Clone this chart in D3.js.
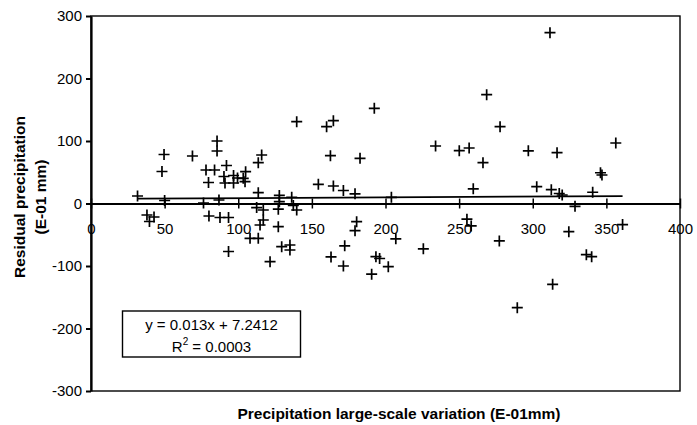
<!DOCTYPE html>
<html><head><meta charset="utf-8">
<script src="https://cdn.jsdelivr.net/npm/d3@7"></script>
<style>
html,body{margin:0;padding:0;background:#fff;}
svg{display:block;font-family:"Liberation Sans",Arial,sans-serif;}
</style></head>
<body>
<svg id="chart" width="697" height="425"></svg>
<script>
const xValues = [31.6,49.6,48.2,50,68.9,38,42.8,39.7,85.6,85.6,78.1,83.9,92,79.8,90.3,91,96.8,96.8,99.5,103.4,105,104.6,76.4,86.9,80.1,87.6,93.4,93.4,
  113.6,115.9,113.6,127.9,136.3,127.9,137.4,112.5,117,127.2,139.7,117,114.8,127.2,108,113.6,129.5,135.1,135.1,121.6,
  139.7,160,164.6,162.6,182.7,192.4,154.4,164.6,171.4,179.3,204,180.4,179.3,207,172.3,225.7,163,193.5,196,171.4,201.9,190.6,234,
  250.1,256.8,266.2,268.7,277.8,259.6,255.3,258.2,277.3,289.5,297,302.7,311.7,312.6,313.5,316.5,318,320,324.5,328.7,336.4,340,340.7,346,347,356.4,361];
const yValues = [12,78.4,51.2,4.8,76,-18.4,-21.6,-28.8,100,84,53.6,53.6,60.8,33.6,43.2,32.8,44.8,32.8,40.8,40.3,51,35,0.8,5.6,-20,-22.4,-22.4,-76.8,
  65.3,77.6,17.3,13,10,2.9,-3,-6.5,-10.4,-9,-10.4,-26.4,-34.4,-37.1,-55.7,-55.7,-69,-66.4,-74.4,-93,
  130.9,122.9,132.5,76.6,72.3,152.3,30.7,28,20.8,15.5,9.9,-29,-43.5,-56.5,-67.7,-72.5,-85.5,-85,-88,-100,-101,-113,92,
  84.5,88.8,65.3,174.2,122.9,23.5,-25,-35.8,-59.8,-166.7,84.3,26.9,273.3,22.2,-129.3,81.3,16,13.6,-45,-4.5,-81.8,-85,18,49.2,45.6,96.8,-33.7];
const xTicks = [0,50,100,150,200,250,300,350,400];
const yTicks = [-300,-200,-100,0,100,200,300];
const trendSlope = 0.013;
const trendIntercept = 7.2412;
const equationText = "y = 0.013x + 7.2412";
const r2Value = "0.0003";
const xTitle = "Precipitation large-scale variation (E-01mm)";
const yTitleLines = ["Residual precipitation", "(E-01 mm)"];

const points = xValues.map((x,i)=>({x, y:yValues[i]}));
const svg = d3.select("#chart");
const L=91, R=680, T=16, B=391;
const x = d3.scaleLinear().domain([0,400]).range([L,R]);
const y = d3.scaleLinear().domain([-300,300]).range([B,T]);
const fmt = d => String(d);
const FONT = "Liberation Sans, Arial, sans-serif";

// plot border
svg.append("rect").attr("x",L).attr("y",T).attr("width",R-L).attr("height",B-T)
  .attr("fill","#fff").attr("stroke","#000").attr("stroke-width",1.4);

// y axis
const yAxis = svg.append("g").attr("transform",`translate(${L},0)`)
  .call(d3.axisLeft(y).tickValues(yTicks).tickFormat(fmt).tickSize(5).tickSizeOuter(0).tickPadding(4));
yAxis.select(".domain").attr("stroke-width",2.2);
yAxis.selectAll(".tick line").attr("stroke-width",2);
yAxis.selectAll("text").attr("font-size",15).attr("fill","#000").attr("font-family",FONT);

// x axis at y=0
const xAxis = svg.append("g").attr("transform",`translate(0,${y(0)})`)
  .call(d3.axisBottom(x).tickValues(xTicks).tickFormat(fmt).tickSize(5).tickSizeOuter(0).tickPadding(14.5));
xAxis.select(".domain").attr("stroke-width",2);
xAxis.selectAll(".tick line").attr("y1",-5).attr("y2",5).attr("stroke-width",1.5);
xAxis.selectAll("text").attr("font-size",15).attr("fill","#000").attr("font-family",FONT);

// trend line
const xMin = d3.min(xValues), xMax = d3.max(xValues);
svg.append("line")
  .attr("x1",x(xMin)).attr("y1",y(trendSlope*xMin+trendIntercept))
  .attr("x2",x(xMax)).attr("y2",y(trendSlope*xMax+trendIntercept))
  .attr("stroke","#000").attr("stroke-width",1.8);

// markers
svg.append("g").selectAll("path").data(points).join("path")
  .attr("transform",d=>`translate(${x(d.x)},${y(d.y)})`)
  .attr("d","M-5.5,0H5.5M0,-5.5V5.5")
  .attr("stroke","#000").attr("stroke-width",1.7).attr("fill","none");

// equation box
svg.append("rect").attr("x",122.5).attr("y",311).attr("width",178).attr("height",46)
  .attr("fill","#fff").attr("stroke","#000").attr("stroke-width",1.4);
svg.append("text").attr("x",211.5).attr("y",330).attr("text-anchor","middle")
  .attr("font-size",15).text(equationText);
const r2 = svg.append("text").attr("x",211.5).attr("y",352).attr("text-anchor","middle").attr("font-size",15);
r2.append("tspan").text("R");
r2.append("tspan").attr("font-size",10).attr("dy",-7).text("2");
r2.append("tspan").attr("dy",7).text(" = " + r2Value);

// axis titles
svg.append("text").attr("x",399).attr("y",419).attr("text-anchor","middle")
  .attr("font-size",15.5).attr("font-weight","bold").text(xTitle);
const yt = svg.append("text").attr("transform",`translate(0,197) rotate(-90)`)
  .attr("text-anchor","middle").attr("font-size",15.5).attr("font-weight","bold");
yt.append("tspan").attr("x",0).attr("y",25).text(yTitleLines[0]);
yt.append("tspan").attr("x",0).attr("y",45.5).text(yTitleLines[1]);
</script>
</body></html>
